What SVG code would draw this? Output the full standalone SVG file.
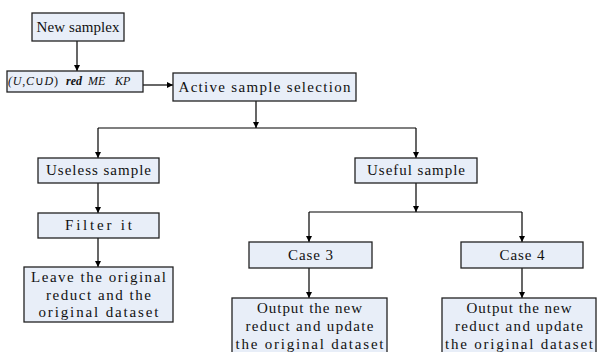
<svg xmlns="http://www.w3.org/2000/svg" width="597" height="352" viewBox="0 0 597 352">
<defs>
<marker id="ah" viewBox="0 0 8 8" refX="8" refY="4" markerWidth="6" markerHeight="6" markerUnits="userSpaceOnUse" orient="auto">
<path d="M0,0 L8,4 L0,8 z" fill="#000"/>
</marker>
<style>
.box{fill:#E8EEF8;stroke:#222;stroke-width:1.3}
.t{font-family:"Liberation Serif","Times New Roman",serif;font-size:15px;fill:#111;text-anchor:middle}
.m{font-family:"Liberation Serif","Times New Roman",serif;font-size:12px;font-style:italic;fill:#111}
.c{fill:none;stroke:#000;stroke-width:1.2}
.a{fill:none;stroke:#000;stroke-width:1.2;marker-end:url(#ah)}
</style>
</defs>
<g id="connectors">
<path class="a" d="M77,41 V71"/>
<path class="a" d="M143,85 H173"/>
<path class="a" d="M256,101 V128"/>
<path class="c" d="M98,128 H416"/>
<path class="a" d="M98,128 V158"/>
<path class="a" d="M416,128 V158"/>
<path class="a" d="M98,183 V213"/>
<path class="a" d="M98,238 V267"/>
<path class="a" d="M416,183 V212"/>
<path class="c" d="M309,212 H522"/>
<path class="a" d="M309,212 V242"/>
<path class="a" d="M522,212 V242"/>
<path class="a" d="M309,268 V298"/>
<path class="a" d="M522,268 V298"/>
</g>
<g id="new-samplex">
<rect class="box" x="32" y="13" width="92" height="28"/>
<text class="t" x="78" y="32" textLength="83" lengthAdjust="spacing">New samplex</text>
</g>
<g id="input">
<rect class="box" x="7" y="71" width="136" height="21"/>
<text class="m" x="8" y="85" textLength="50" lengthAdjust="spacing">(U<tspan font-style="normal">,</tspan>C<tspan font-style="normal">∪</tspan>D<tspan font-style="normal">)</tspan></text>
<text class="m" x="66" y="85" font-weight="bold" font-size="11">red</text>
<text class="m" x="88" y="85">ME</text>
<text class="m" x="115" y="85">KP</text>
</g>
<g id="active">
<rect class="box" x="173" y="73" width="183" height="28"/>
<text class="t" x="264.5" y="92" textLength="172" lengthAdjust="spacing">Active sample selection</text>
</g>
<g id="useless">
<rect class="box" x="38" y="158" width="121" height="25"/>
<text class="t" x="98.5" y="175" textLength="105" lengthAdjust="spacing">Useless sample</text>
</g>
<g id="filter">
<rect class="box" x="38" y="213" width="121" height="25"/>
<text class="t" x="98.5" y="230" textLength="67" lengthAdjust="spacing">Filter it</text>
</g>
<g id="leave">
<rect class="box" x="24" y="267" width="149" height="55"/>
<text class="t" x="98.5" y="282" textLength="135" lengthAdjust="spacing">Leave the original</text>
<text class="t" x="98.5" y="299.5" textLength="105" lengthAdjust="spacing">reduct and the</text>
<text class="t" x="98.5" y="317" textLength="120" lengthAdjust="spacing">original dataset</text>
</g>
<g id="useful">
<rect class="box" x="355" y="158" width="122" height="25"/>
<text class="t" x="416" y="175" textLength="98" lengthAdjust="spacing">Useful sample</text>
</g>
<g id="case3">
<rect class="box" x="249" y="242" width="123" height="26"/>
<text class="t" x="310.5" y="260" textLength="45" lengthAdjust="spacing">Case 3</text>
</g>
<g id="case4">
<rect class="box" x="461" y="242" width="122" height="26"/>
<text class="t" x="522" y="260" textLength="45" lengthAdjust="spacing">Case 4</text>
</g>
<g id="output3">
<rect class="box" x="232" y="298" width="155" height="56"/>
<text class="t" x="309.5" y="313" textLength="105" lengthAdjust="spacing">Output the new</text>
<text class="t" x="309.5" y="331" textLength="128" lengthAdjust="spacing">reduct and update</text>
<text class="t" x="309.5" y="349" textLength="148" lengthAdjust="spacing">the original dataset</text>
</g>
<g id="output4">
<rect class="box" x="442" y="298" width="154" height="56"/>
<text class="t" x="519" y="313" textLength="105" lengthAdjust="spacing">Output the new</text>
<text class="t" x="519" y="331" textLength="128" lengthAdjust="spacing">reduct and update</text>
<text class="t" x="519" y="349" textLength="148" lengthAdjust="spacing">the original dataset</text>
</g>
</svg>
